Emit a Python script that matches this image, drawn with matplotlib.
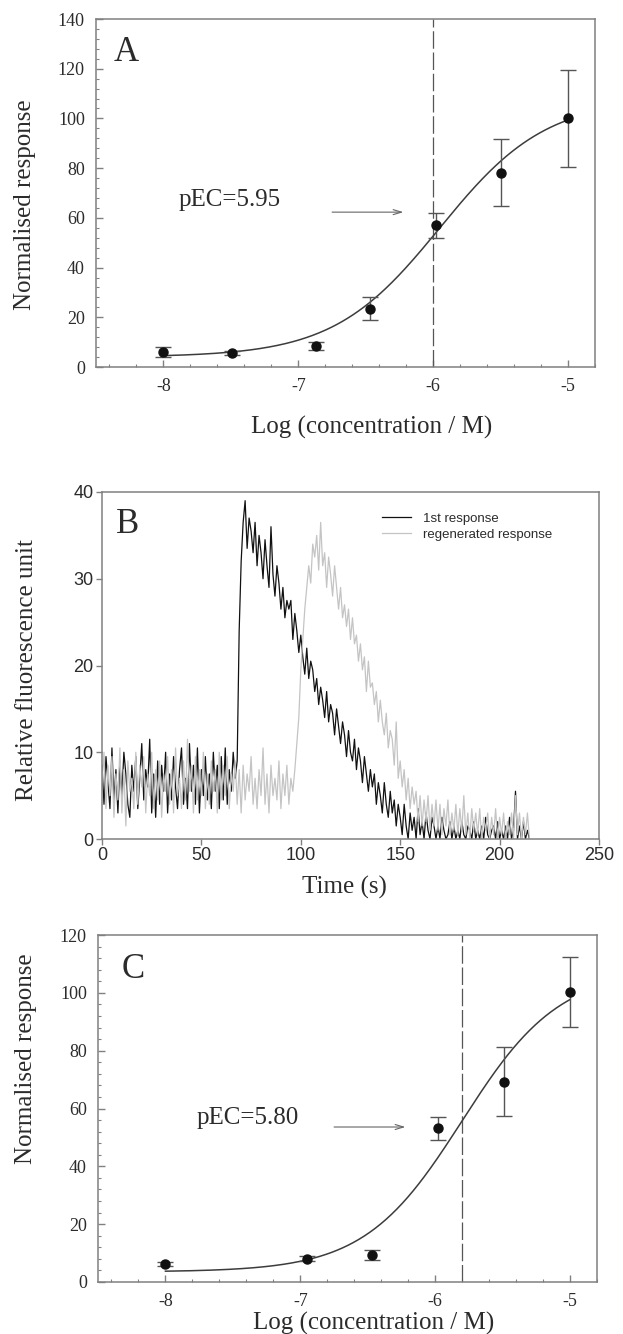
import numpy as np
import matplotlib
matplotlib.use("Agg")
import matplotlib.pyplot as plt
from matplotlib.ticker import MultipleLocator

plt.rcParams['axes.unicode_minus'] = False
SERIF = 'Liberation Serif'
SANS = 'Liberation Sans'

# ---------------- Panel A: concentration-response, first application ----------------
a_logc = [-8.0, -7.49, -6.87, -6.47, -5.98, -5.50, -5.0]
a_resp = [6.0, 5.8, 8.5, 23.5, 57.0, 78.2, 100.0]
a_err = [2.0, 0.8, 1.5, 4.5, 5.0, 13.6, 19.6]
a_pec = 5.95
a_bottom, a_top, a_hill = 4.0, 108.0, 1.1

# ---------------- Panel C: concentration-response, regenerated ----------------
c_logc = [-8.0, -6.95, -6.47, -5.98, -5.49, -5.0]
c_resp = [6.2, 8.1, 9.2, 53.1, 69.3, 100.3]
c_err = [0.6, 1.0, 1.7, 4.0, 12.0, 12.0]
c_pec = 5.80
c_bottom, c_top, c_hill = 3.5, 108.0, 1.2

# ---------------- Panel B: fluorescence traces, one sample per second ----------------
first_response = [
    8.5, 4.0, 9.5, 6.5, 3.5, 10.5, 4.5, 8.0, 3.0, 9.0,
    5.0, 10.0, 7.5, 4.0, 2.5, 8.5, 5.5, 9.5, 3.5, 7.0,
    11.0, 4.5, 8.0, 6.0, 11.5, 3.0, 7.5, 2.5, 9.0, 4.0,
    8.5, 5.5, 10.0, 3.0, 7.5, 4.5, 9.5, 6.0, 3.5, 8.0,
    10.5, 4.0, 7.0, 3.5, 11.0, 5.5, 8.5, 4.0, 10.5, 3.0,
    8.0, 5.0, 9.5, 4.5, 7.5, 3.5, 10.0, 5.5, 8.5, 3.5,
    9.5, 4.5, 10.5, 4.0, 8.0, 5.5, 10.0, 7.0, 9.0, 24.0,
    32.0, 36.5, 39.0, 33.5, 37.0, 35.5, 33.0, 36.5, 31.5, 35.0,
    33.0, 30.0, 34.5, 31.5, 29.0, 36.0, 30.5, 28.0, 31.5, 29.5,
    26.5, 29.0, 25.5, 27.5, 26.5, 27.5, 23.0, 26.0, 24.0, 21.5,
    23.5, 21.0, 19.0, 22.0, 18.5, 20.5, 19.5, 17.0, 18.5, 15.5,
    17.5, 16.0, 14.0, 17.0, 13.5, 15.5, 14.5, 12.0, 15.0, 13.0,
    11.0, 13.5, 12.0, 9.5, 12.5, 10.0, 9.0, 11.5, 8.0, 10.5,
    9.0, 6.5, 9.5, 7.5, 5.5, 8.0, 6.0, 7.5, 4.0, 6.5,
    5.0, 3.0, 6.5, 4.0, 2.5, 5.5, 3.0, 4.5, 1.5, 4.0,
    2.5, 0.5, 4.0, 1.5, 0.0, 3.0, 1.0, 2.5, 0.0, 3.5,
    0.5, 2.0, 0.0, 3.0, 1.0, 0.0, 2.5, 1.5, 0.0, 1.5,
    0.0, 2.5, 1.0, 0.0, 0.5, 2.0, 0.0, 1.5, 0.0, 1.0,
    0.0, 2.0, 0.5, 0.0, 1.5, 1.0, 0.0, 2.0, 0.0, 1.0,
    0.0, 1.5, 0.0, 2.5, 0.5, 0.0, 1.0, 1.5, 0.0, 2.0,
    0.0, 1.0, 0.0, 1.5, 0.0, 2.5, 0.0, 1.0, 5.5, 0.0,
    1.5, 0.0, 2.0, 0.0, 1.0, 0.0,
]
regenerated_response = [
    6.5, 10.0, 3.5, 8.5, 5.0, 9.5, 2.5, 7.5, 4.5, 10.5,
    3.0, 8.0, 1.5, 9.0, 5.5, 7.0, 3.5, 10.0, 4.0, 8.5,
    6.0, 9.5, 3.0, 7.5, 5.0, 10.0, 3.5, 8.0, 4.5, 9.0,
    2.5, 7.5, 5.5, 9.5, 4.0, 8.0, 3.0, 10.5, 5.0, 7.0,
    3.5, 9.0, 4.5, 11.5, 5.5, 8.5, 3.0, 9.5, 4.5, 8.0,
    5.0, 10.0, 3.5, 7.5, 4.0, 9.0, 5.5, 8.0, 3.0, 10.0,
    4.5, 8.5, 5.0, 9.5, 3.5, 7.5, 5.5, 9.0, 4.0, 8.0,
    3.0, 8.5, 4.5, 7.5, 5.5, 9.5, 4.0, 7.0, 3.5, 8.0,
    5.0, 10.5, 4.0, 7.5, 3.0, 8.5, 5.0, 7.0, 4.5, 9.0,
    3.5, 7.5, 5.0, 8.5, 4.0, 7.0, 5.5, 8.0, 11.0, 14.0,
    19.5, 23.0, 26.5, 29.0, 31.5, 29.5, 34.0, 32.5, 35.0, 31.0,
    36.5, 31.5, 33.0, 29.0, 32.5, 30.5, 28.0, 31.5, 29.0, 26.5,
    29.0, 25.5, 27.0, 24.5, 26.5, 23.0, 25.5, 22.5, 23.5, 20.5,
    22.5, 19.5, 21.0, 17.0, 20.5, 17.5, 18.0, 15.5, 17.0, 13.5,
    16.0, 13.5, 12.0, 14.5, 10.5, 12.5, 11.5, 8.5, 13.5, 7.0,
    9.0, 6.0, 8.0, 4.5, 7.0, 3.5, 6.0, 4.0, 5.5, 2.0,
    5.0, 1.5, 4.5, 2.0, 5.0, 1.0, 4.0, 1.5, 4.5, 1.0,
    4.0, 0.5, 3.5, 1.5, 4.5, 0.5, 3.0, 1.0, 4.0, 0.5,
    3.5, 1.0, 5.0, 0.5, 3.0, 0.0, 3.5, 1.0, 3.0, 0.5,
    3.5, 0.0, 2.5, 1.0, 3.0, 0.0, 2.5, 0.5, 3.5, 0.0,
    2.5, 0.5, 3.0, 0.0, 2.0, 0.5, 3.0, 0.0, 5.0, 0.5,
    3.0, 0.0, 2.5, 0.5, 3.0, 0.0,
]
trace_labels = ["1st response", "regenerated response"]

W, H = 623, 1334
fig = plt.figure(figsize=(W / 100, H / 100), dpi=100)

SPINE = '#808080'
TEXT = '#2b2b2b'


def box(l, t, r, b):
    return [l / W, 1 - b / H, (r - l) / W, (b - t) / H]


def fpos(x, y):
    return x / W, 1 - y / H


def hill(logc, bottom, top, pec, n):
    return bottom + (top - bottom) / (1 + 10 ** ((-pec - logc) * n))


def dose_panel(ax, logc, resp, err, pec, bottom, top, n, ymax, vline, letter, letter_xy,
               arrow_y, label_xy):
    ax.set_xlim(-8.5, -4.8)
    ax.set_ylim(0, ymax)
    xs = np.linspace(-8, -5, 300)
    ax.plot(xs, hill(xs, bottom, top, pec, n), color='#3c3c3c', lw=1.1, zorder=3)
    ax.errorbar(logc, resp, yerr=err, fmt='o', color='#111111', ms=6.5,
                ecolor='#555555', elinewidth=1.0, capsize=5.5, capthick=1.0, zorder=4)
    ax.axvline(vline, color='#555555', lw=0.9, dashes=(14, 3), zorder=2)
    ax.xaxis.set_major_locator(MultipleLocator(1))
    ax.xaxis.set_minor_locator(MultipleLocator(0.2))
    ax.yaxis.set_major_locator(MultipleLocator(20))
    ax.yaxis.set_minor_locator(MultipleLocator(4))
    ax.tick_params(which='both', direction='in', colors=SPINE, labelcolor=TEXT,
                   top=False, right=False)
    ax.tick_params(which='major', length=5, width=1.0, labelsize=13, pad=8)
    ax.tick_params(which='minor', length=2.5, width=0.8)
    for lab in ax.get_xticklabels() + ax.get_yticklabels():
        lab.set_family(SERIF)
    for s in ax.spines.values():
        s.set_color(SPINE)
        s.set_linewidth(1.1)
    ax.text(*letter_xy, letter, transform=ax.transAxes, fontsize=25, family=SERIF,
            color=TEXT, ha='center', va='center')
    ax.text(*label_xy, f"pEC={pec:.2f}", fontsize=18, family=SERIF,
            color=TEXT, ha='center', va='center')
    ax.annotate('', xy=(-6.2, arrow_y), xytext=(-6.77, arrow_y),
                arrowprops=dict(arrowstyle='->,head_length=0.6,head_width=0.18',
                                color='#666666', lw=0.8))


# Panel A
axA = fig.add_axes(box(96, 19, 595, 367))
dose_panel(axA, a_logc, a_resp, a_err, a_pec, a_bottom, a_top, a_hill, 140, -6.0,
           'A', (0.06, 0.905), 62.3, (-7.51, 67.0))

# Panel B
axB = fig.add_axes(box(102, 492, 599, 839))
tB1 = np.arange(len(first_response))
tB2 = np.arange(len(regenerated_response))
axB.plot(tB1, first_response, color='#111111', lw=0.9, label=trace_labels[0])
axB.plot(tB2, regenerated_response, color='#c4c4c4', lw=0.9, label=trace_labels[1])
axB.set_xlim(0, 250)
axB.set_ylim(0, 40)
axB.xaxis.set_major_locator(MultipleLocator(50))
axB.yaxis.set_major_locator(MultipleLocator(10))
axB.tick_params(direction='out', length=4, width=1.0, colors=SPINE, labelcolor=TEXT,
                labelsize=13, pad=2)
for lab in axB.get_xticklabels() + axB.get_yticklabels():
    lab.set_family(SANS)
for s in axB.spines.values():
    s.set_color(SPINE)
    s.set_linewidth(1.1)
axB.text(0.052, 0.905, 'B', transform=axB.transAxes, fontsize=25, family=SERIF,
         color=TEXT, ha='center', va='center')
leg = axB.legend(loc='upper left', bbox_to_anchor=(0.563, 0.94), frameon=False,
                 prop={'family': SANS, 'size': 9.5}, handlelength=2.2,
                 handletextpad=0.9, labelspacing=0.25, borderpad=0, borderaxespad=0)
for t in leg.get_texts():
    t.set_color(TEXT)

# Panel C
axC = fig.add_axes(box(98, 935, 597, 1282))
dose_panel(axC, c_logc, c_resp, c_err, c_pec, c_bottom, c_top, c_hill, 120, -c_pec,
           'C', (0.07, 0.9), 53.6, (-7.39, 56.7))

# Axis titles
for (x, y), txt in [((25, 205), 'Normalised response'),
                    ((27, 670), 'Relative fluorescence unit'),
                    ((26, 1059), 'Normalised response')]:
    fig.text(*fpos(x, y), txt, rotation=90, ha='center', va='center', fontsize=18,
             family=SERIF, color=TEXT)
for (x, y), txt in [((372, 427), 'Log (concentration / M)'),
                    ((344, 887), 'Time (s)'),
                    ((374, 1323), 'Log (concentration / M)')]:
    fig.text(*fpos(x, y), txt, ha='center', va='center', fontsize=18,
             family=SERIF, color=TEXT)

fig.savefig('out.png', dpi=100, facecolor='white')
